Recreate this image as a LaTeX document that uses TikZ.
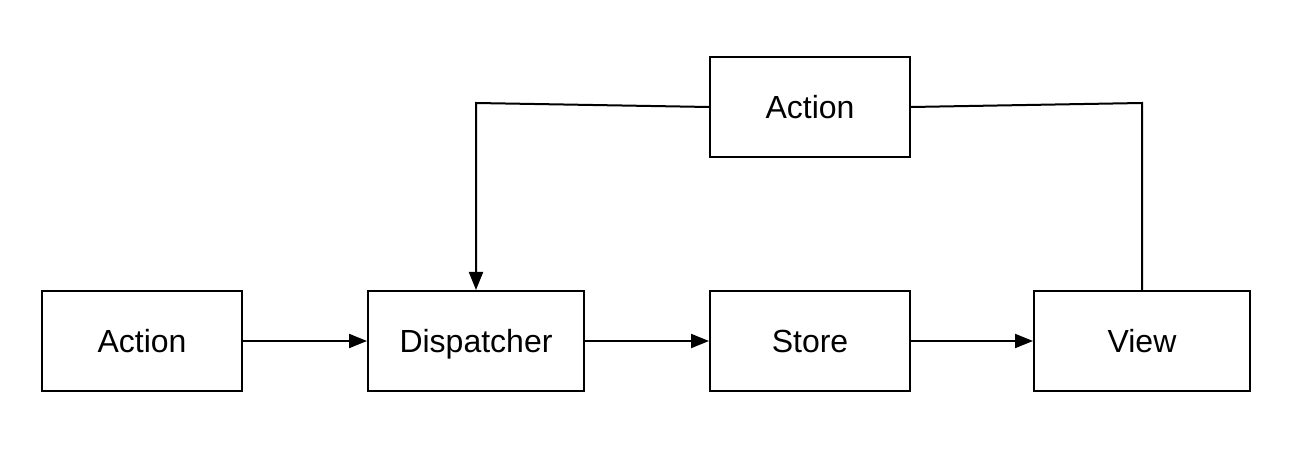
\documentclass[tikz,border=0pt]{standalone}
\usepackage{fontspec}
\setmainfont{Liberation Sans}
\usetikzlibrary{arrows.meta}
\begin{document}
\begin{tikzpicture}[x=1pt,y=-1pt,
  box/.style={draw, line width=2pt, minimum height=100pt, inner sep=0pt,
    text height=23pt, text depth=0pt,
    font=\fontsize{32}{38}\selectfont},
  flow/.style={line width=2pt, -{Triangle[length=18pt,width=14pt]}},
  link/.style={line width=2pt}]
  \useasboundingbox (0,0) rectangle (1310,454);
  % lower row
  \node[box, minimum width=200pt] (act)  at (142,341) {Action};
  \node[box, minimum width=216pt] (disp) at (476,341) {Dispatcher};
  \node[box, minimum width=200pt] (store) at (810,341) {Store};
  \node[box, minimum width=216pt] (view) at (1142,341) {View};
  % upper action
  \node[box, minimum width=200pt] (atop) at (810,107) {Action};
  % bends of the feedback lines
  \coordinate (cl) at (476,103);
  \coordinate (cr) at (1142,103);
  \draw[flow] (act) -- (disp);
  \draw[flow] (disp) -- (store);
  \draw[flow] (store) -- (view);
  \draw[flow] (atop.west) -- (cl) -- (disp.north);
  \draw[link] (atop.east) -- (cr) -- (view.north);
\end{tikzpicture}
\end{document}
